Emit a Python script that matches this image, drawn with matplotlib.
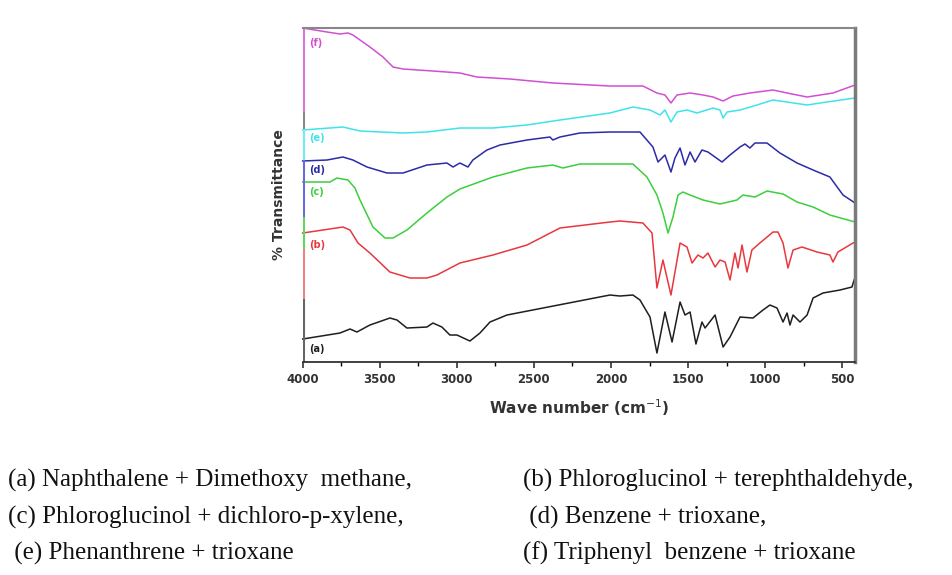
import numpy as np
import matplotlib
matplotlib.use("Agg")
import matplotlib.pyplot as plt
from matplotlib.ticker import MultipleLocator

# wavenumber (cm-1) / transmittance (arbitrary, stacked)
wn_a = [4000, 3758, 3693, 3648, 3564, 3434, 3388, 3324, 3194, 3155, 3097, 3045, 2999, 2915,
        2850, 2785, 2675, 2007, 1942, 1858, 1812, 1747, 1702, 1650, 1604, 1552, 1520, 1487,
        1449, 1410, 1390, 1325, 1273, 1228, 1163, 1079, 1014, 969, 923, 884, 858, 839, 819,
        774, 728, 689, 625, 515, 437, 423, 417]
tr_a = [23, 29, 33, 30, 37, 44, 42, 34, 35, 39, 35, 27, 27, 21,
        29, 40, 47, 67, 66, 67, 62, 45, 9, 50, 20, 60, 47, 50,
        18, 40, 34, 47, 15, 25, 45, 44, 52, 57, 54, 40, 49, 37, 47,
        40, 47, 64, 69, 72, 75, 82, 84]

wn_b = [4000, 3739, 3693, 3641, 3564, 3434, 3304, 3194, 3129, 2980, 2766, 2545, 2331, 2007,
        1942, 1793, 1734, 1702, 1663, 1611, 1552, 1507, 1474, 1436, 1403, 1371, 1325, 1293,
        1260, 1228, 1196, 1176, 1150, 1118, 1086, 1034, 949, 917, 884, 852, 819, 761, 663,
        580, 560, 528, 430, 417]
tr_b = [129, 135, 132, 119, 109, 90, 84, 84, 87, 99, 107, 117, 134, 140,
        141, 139, 129, 74, 102, 67, 119, 115, 99, 107, 104, 109, 95, 102,
        100, 82, 109, 94, 117, 90, 112, 119, 130, 130, 119, 94, 112, 115, 110,
        107, 100, 110, 119, 120]

wn_c = [4000, 3823, 3778, 3706, 3661, 3628, 3544, 3466, 3414, 3324, 3194, 3064, 2980, 2766,
        2545, 2377, 2312, 2202, 1858, 1767, 1702, 1663, 1630, 1598, 1565, 1533, 1487, 1403,
        1293, 1183, 1144, 1066, 988, 884, 793, 689, 580, 417]
tr_c = [180, 180, 184, 182, 174, 162, 135, 124, 124, 132, 149, 165, 173, 185,
        194, 197, 194, 198, 198, 185, 167, 149, 129, 145, 167, 170, 167, 162,
        158, 162, 167, 165, 171, 168, 160, 155, 147, 140]

wn_d = [4000, 3842, 3739, 3674, 3583, 3453, 3349, 3194, 3064, 3025, 2980, 2928, 2896, 2805,
        2720, 2545, 2396, 2377, 2331, 2202, 2007, 1812, 1728, 1695, 1650, 1611, 1585, 1552,
        1520, 1487, 1455, 1410, 1371, 1280, 1228, 1163, 1131, 1099, 1066, 988, 904, 793,
        689, 580, 495, 417]
tr_d = [201, 202, 205, 202, 195, 189, 189, 197, 199, 195, 199, 195, 202, 212,
        217, 222, 225, 222, 225, 229, 230, 230, 215, 200, 207, 190, 204, 214,
        197, 210, 200, 212, 210, 200, 207, 215, 218, 214, 219, 219, 209, 199,
        192, 185, 167, 159]

wn_e = [4000, 3739, 3628, 3349, 3194, 2980, 2766, 2545, 2331, 2007, 1858, 1747, 1682, 1650,
        1611, 1572, 1507, 1442, 1338, 1293, 1273, 1247, 1163, 1053, 949, 858, 728, 599, 417]
tr_e = [232, 235, 231, 229, 230, 234, 234, 237, 242, 249, 255, 252, 247, 252,
        240, 250, 252, 249, 254, 252, 244, 250, 252, 257, 262, 260, 257, 260, 264]

wn_f = [4000, 3842, 3758, 3706, 3674, 3564, 3479, 3414, 3349, 3155, 2980, 2870, 2655, 2377,
        2007, 1793, 1702, 1650, 1611, 1572, 1487, 1403, 1338, 1273, 1209, 1099, 949, 858,
        728, 560, 417]
tr_f = [334, 330, 328, 329, 327, 315, 305, 295, 293, 291, 289, 285, 283, 279,
        276, 276, 269, 267, 259, 267, 269, 267, 265, 261, 266, 269, 272, 269,
        265, 269, 277]

series = [("(a)", wn_a, tr_a, "#1e1e1e"),
          ("(b)", wn_b, tr_b, "#e8383d"),
          ("(c)", wn_c, tr_c, "#3ccf3c"),
          ("(d)", wn_d, tr_d, "#2b2ba8"),
          ("(e)", wn_e, tr_e, "#3fe3ea"),
          ("(f)", wn_f, tr_f, "#d24fd2")]
label_drop = [10, 12, 10, 9, 8, 15]

captions = [("(a) Naphthalene + Dimethoxy  methane,", "(b) Phloroglucinol + terephthaldehyde,"),
            ("(c) Phloroglucinol + dichloro-p-xylene,", " (d) Benzene + trioxane,"),
            (" (e) Phenanthrene + trioxane", "(f) Triphenyl  benzene + trioxane")]

fig = plt.figure(figsize=(9.53, 5.75), dpi=100)
ax = fig.add_axes([0.3176, 0.3704, 0.5796, 0.5809])

for (lab, x, y, c), d in zip(series, label_drop):
    ax.plot(x, y, color=c, lw=1.1, clip_on=False)
    ax.text(3960, y[0] - d, lab, color=c, fontsize=7, fontweight="bold",
            va="center", ha="left")

ax.set_xlim(4000, 417)
ax.set_ylim(0, 334)
ax.set_yticks([])
ax.xaxis.set_major_locator(MultipleLocator(500))
ax.xaxis.set_minor_locator(MultipleLocator(250))
ax.tick_params(axis="x", which="major", direction="out", length=4, width=1.2,
               labelsize=8.5, colors="#333333", pad=4)
ax.tick_params(axis="x", which="minor", direction="out", length=3, width=1)
for t in ax.get_xticklabels():
    t.set_fontweight("bold")

ax.spines["top"].set_color("#888888")
ax.spines["top"].set_linewidth(1.5)
ax.spines["right"].set_color("#7a7a7a")
ax.spines["right"].set_linewidth(2.5)
ax.spines["bottom"].set_color("#333333")
ax.spines["bottom"].set_linewidth(1.3)
ax.spines["left"].set_visible(False)

# stacked left axis, one coloured piece per layer (as in the Origin figure)
pieces = [(0, 65, "#666666"), (65, 115, "#f08080"), (115, 147, "#60d860"),
          (147, 204, "#6a6ae0"), (204, 235, "#70ecf0"), (235, 252, "#888888"),
          (252, 334, "#e070e0")]
for lo, hi, c in pieces:
    ax.axvline(4000, ymin=lo / 334, ymax=hi / 334, color=c, lw=2.2)

ax.set_xlabel("Wave number (cm$^{-1}$)", fontsize=11, fontweight="bold",
              color="#333333", labelpad=8)
ax.set_ylabel("% Transmittance", fontsize=10, fontweight="bold", color="#333333",
              labelpad=12)

rows = [480, 517, 553]
for (left, right), r in zip(captions, rows):
    fig.text(8 / 953, 1 - r / 575, left, fontsize=18, family="Liberation Serif",
             va="center", ha="left", color="#111111")
    fig.text(523 / 953, 1 - r / 575, right, fontsize=18, family="Liberation Serif",
             va="center", ha="left", color="#111111")

fig.savefig("out.png", dpi=100)
